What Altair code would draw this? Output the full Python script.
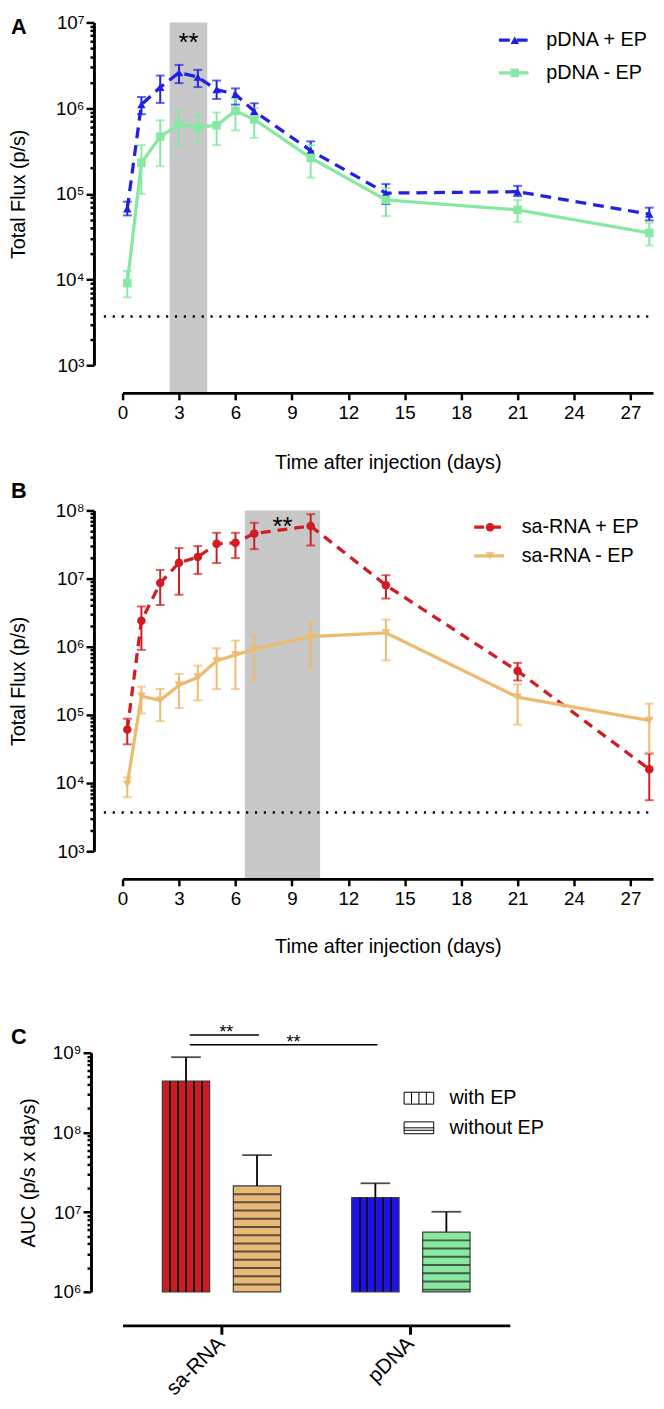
import altair as alt
import pandas as pd
import math

FONT = "Liberation Sans"

# ---------------- data ----------------
days = [0.25, 1, 2, 3, 4, 5, 6, 7, 10, 14, 21, 28]

# Panel A (pDNA)
a_names = ["pDNA + EP", "pDNA - EP"]
a_colors = ["#2121E3", "#86E8A2"]
a_shapes = ["triangle-up", "square"]
a_dashes = [[11, 7], [1, 0]]
pdna_ep = [6.7e4, 1.1e6, 1.75e6, 2.6e6, 2.3e6, 1.65e6, 1.45e6, 9.2e5, 3.2e5, 1.02e5, 1.06e5, 5.8e4]
pdna_ep_hi = [8.1e4, 1.35e6, 2.4e6, 3.2e6, 2.8e6, 2.1e6, 1.7e6, 1.14e6, 4.1e5, 1.3e5, 1.24e5, 6.9e4]
pdna_ep_lo = [5.6e4, 8.5e5, 1.15e6, 1.96e6, 1.76e6, 1.28e6, 1.1e6, 7.9e5, 2.8e5, 7.6e4, 9.4e4, 4.9e4]
pdna_noep = [9.1e3, 2.3e5, 4.65e5, 6.5e5, 6.0e5, 6.3e5, 9.3e5, 7.4e5, 2.63e5, 8.5e4, 6.5e4, 3.5e4]
pdna_noep_hi = [1.26e4, 3.7e5, 7.2e5, 9.3e5, 8.3e5, 8.9e5, 1.29e6, 1.0e6, 3.7e5, 1.16e5, 8.5e4, 4.6e4]
pdna_noep_lo = [6.2e3, 1.0e5, 2.1e5, 3.6e5, 3.85e5, 3.7e5, 5.5e5, 4.5e5, 1.55e5, 5.5e4, 4.7e4, 2.5e4]
a_band = [2.5, 4.5]

# Panel B (sa-RNA)
b_names = ["sa-RNA + EP", "sa-RNA - EP"]
b_colors = ["#D01C22", "#EDBA72"]
b_shapes = ["circle", "triangle-down"]
b_dashes = [[10, 7], [1, 0]]
sarna_ep = [6.1e4, 2.4e6, 8.6e6, 1.71e7, 2.07e7, 3.24e7, 3.35e7, 4.6e7, 5.9e7, 8.0e6, 4.4e5, 1.6e4]
sarna_ep_hi = [8.8e4, 3.9e6, 1.34e7, 2.8e7, 3.0e7, 4.7e7, 4.7e7, 6.6e7, 8.8e7, 1.12e7, 5.8e5, 2.7e4]
sarna_ep_lo = [3.7e4, 9.0e5, 4.1e6, 5.8e6, 1.17e7, 1.69e7, 2.0e7, 2.7e7, 3.06e7, 5.1e6, 3.2e5, 5.6e3]
sarna_noep = [9.6e3, 1.88e5, 1.64e5, 2.72e5, 3.56e5, 6.2e5, 7.6e5, 9.2e5, 1.41e6, 1.6e6, 1.82e5, 8.3e4]
sarna_noep_hi = [1.21e4, 2.6e5, 2.4e5, 4.0e5, 5.3e5, 9.5e5, 1.23e6, 1.49e6, 2.26e6, 2.5e6, 2.8e5, 1.46e5]
sarna_noep_lo = [6.2e3, 1.05e5, 8.1e4, 1.26e5, 1.64e5, 2.4e5, 2.4e5, 3.1e5, 4.9e5, 6.3e5, 7.2e4, 2.8e4]
b_band = [6.5, 10.5]

detection_limit = [3700]
x_ticks = [0, 3, 6, 9, 12, 15, 18, 21, 24, 27]

# Panel C (AUC)
c_groups = ["sa-RNA", "sa-RNA", "pDNA", "pDNA"]
c_conds = ["with EP", "without EP", "with EP", "without EP"]
c_auc = [4.4e8, 2.13e7, 1.52e7, 5.6e6]
c_auc_hi = [8.8e8, 5.2e7, 2.3e7, 1.01e7]
c_colors = ["#CE1A20", "#E8B878", "#1F10EE", "#88E8A0"]
group_order = ["sa-RNA", "pDNA"]
cond_order = ["with EP", "without EP"]

# ---------------- helpers ----------------
W = 537
SUP = "⁰¹²³⁴⁵⁶⁷⁸⁹"
IS_MAJOR = "abs(log(datum.value)/LN10 - round(log(datum.value)/LN10)) < 0.01"


def log_axis(lo_exp, hi_exp, title, offset, title_pad):
    vals = [m * 10 ** e for e in range(lo_exp, hi_exp) for m in range(1, 10)] + [10 ** hi_exp]
    expo = "round(log(datum.value)/LN10)"
    return alt.Axis(
        values=vals, title=title, offset=offset, titlePadding=title_pad,
        labelExpr=f"{IS_MAJOR} ? '10' + substring('{SUP}', {expo}, {expo} + 1) : ''",
        tickSize={"condition": {"test": IS_MAJOR, "value": 8}, "value": 4},
        labelPadding=2, labelOverlap=False, labelFontSize=19,
    )


def series_frame(names, means, los, his):
    rows = []
    for name, m, lo, hi in zip(names, means, los, his):
        for d, v, l, h in zip(days, m, lo, hi):
            rows.append({"day": d, "value": v, "lo": l, "hi": h, "series": name})
    return pd.DataFrame(rows)


one = pd.DataFrame({"k": [0]})


def time_panel(df, names, colors, shapes, dashes, exps, H, band, star_y,
               letter, letter_y, leg_x, leg_y0, leg_dy, title_pad):
    xs = alt.Scale(domain=[0, 28.2], nice=False, zero=False)
    ys = alt.Scale(type="log", domain=[10 ** exps[0], 10 ** exps[1]], nice=False)
    xaxis = alt.Axis(values=x_ticks, title="Time after injection (days)", offset=28,
                     tickSize=7, labelPadding=4, titlePadding=title_pad, labelFlush=False,
                     labelFontSize=19, zindex=1)
    yaxis = log_axis(exps[0], exps[1], "Total Flux (p/s)", 29, 27)
    X = lambda f: alt.X(f, type="quantitative", scale=xs, axis=xaxis)
    Y = lambda f: alt.Y(f, type="quantitative", scale=ys, axis=yaxis)
    col = alt.Color("series:N", scale=alt.Scale(domain=names, range=colors), legend=None)

    band_df = pd.DataFrame({"x0": [band[0]], "x1": [band[1]], "mid": [(band[0] + band[1]) / 2]})
    layers = []
    layers.append(alt.Chart(band_df).mark_rect(color="#C8C8C8").encode(
        x=X("x0"), x2="x1", y=alt.value(0), y2=alt.value(H + 27)))
    layers.append(alt.Chart(pd.DataFrame({"lod": detection_limit})).mark_rule(
        color="black", strokeDash=[2.2, 6.8], strokeWidth=2.6).encode(
        y=Y("lod"), x=alt.value(-19), x2=alt.value(W)))
    base = alt.Chart(df)
    layers.append(base.mark_rule(strokeWidth=2).encode(x=X("day"), y=Y("lo"), y2="hi", color=col))
    layers.append(base.mark_tick(orient="horizontal", size=9, thickness=2).encode(x=X("day"), y=Y("hi"), color=col))
    layers.append(base.mark_tick(orient="horizontal", size=9, thickness=2).encode(x=X("day"), y=Y("lo"), color=col))
    layers.append(base.mark_line(strokeWidth=3.3).encode(
        x=X("day"), y=Y("value"), color=col,
        strokeDash=alt.StrokeDash("series:N", scale=alt.Scale(domain=names, range=dashes), legend=None)))
    layers.append(base.mark_point(filled=True, opacity=1, size=75).encode(
        x=X("day"), y=Y("value"), color=col,
        shape=alt.Shape("series:N", scale=alt.Scale(domain=names, range=shapes), legend=None)))
    layers.append(alt.Chart(band_df).mark_text(text="**", fontSize=26, font=FONT, color="black",
                                               baseline="alphabetic").encode(
        x=X("mid"), y=alt.value(star_y)))
    layers.append(alt.Chart(one).mark_text(text=letter, fontSize=22, fontWeight="bold", font=FONT,
                                           align="left", color="black").encode(
        x=alt.value(-113), y=alt.value(letter_y)))
    # legend
    for i, (nm, c, s, d) in enumerate(zip(names, colors, shapes, dashes)):
        yy = leg_y0 + i * leg_dy
        layers.append(alt.Chart(one).mark_rule(color=c, strokeWidth=3.3, strokeDash=d).encode(
            x=alt.value(leg_x), x2=alt.value(leg_x + 30), y=alt.value(yy)))
        layers.append(alt.Chart(one).mark_point(color=c, filled=True, opacity=1, size=75, shape=s).encode(
            x=alt.value(leg_x + 16), y=alt.value(yy)))
        layers.append(alt.Chart(pd.DataFrame({"name": [nm]})).mark_text(
            fontSize=20, font=FONT, align="left", baseline="middle", color="black").encode(
            x=alt.value(leg_x + 48), y=alt.value(yy), text="name:N"))
    return alt.layer(*layers).properties(width=W, height=H)


dfa = series_frame(a_names, [pdna_ep, pdna_noep], [pdna_ep_lo, pdna_noep_lo], [pdna_ep_hi, pdna_noep_hi])
dfb = series_frame(b_names, [sarna_ep, sarna_noep], [sarna_ep_lo, sarna_noep_lo], [sarna_ep_hi, sarna_noep_hi])

chart_a = time_panel(dfa, a_names, a_colors, a_shapes, a_dashes, (3, 7), 347, a_band, 29,
                     "A", 5, 381, 18, 33, 31)
chart_b = time_panel(dfb, b_names, b_colors, b_shapes, b_dashes, (3, 8), 345, b_band, 25,
                     "B", -20, 356, 17, 29, 29)

# ---------------- Panel C ----------------
CW, CH = 392, 242
c_df = pd.DataFrame({"group": c_groups, "cond": c_conds, "auc": c_auc, "hi": c_auc_hi,
                     "key": [g + " " + c for g, c in zip(c_groups, c_conds)]})
keys = list(c_df["key"])
cys = alt.Scale(type="log", domain=[1e6, 1e9], nice=False)
cyaxis = log_axis(6, 9, "AUC (p/s x days)", 32, 14)
cxaxis = alt.Axis(title=None, offset=34, tickSize=9, tickWidth=3, labelAngle=-45, labelAlign="right",
                  labelBaseline="middle", labelPadding=6, labelFontSize=21)
CX = alt.X("group:N", sort=group_order,
           scale=alt.Scale(domain=group_order, paddingInner=0.375, paddingOuter=0.21), axis=cxaxis)
CXO = alt.XOffset("cond:N", sort=cond_order,
                  scale=alt.Scale(domain=cond_order, paddingInner=0.333, paddingOuter=0))
CY = lambda f: alt.Y(f, type="quantitative", scale=cys, axis=cyaxis)

stops = [alt.GradientStop(offset=0, color="rgba(0,0,0,0)")]
for k in range(1, 6):
    c0 = k / 6 - 1 / 48
    c1 = k / 6 + 1 / 48
    stops += [alt.GradientStop(offset=c0, color="rgba(0,0,0,0)"),
              alt.GradientStop(offset=c0, color="#111111"),
              alt.GradientStop(offset=c1, color="#111111"),
              alt.GradientStop(offset=c1, color="rgba(0,0,0,0)")]
stops.append(alt.GradientStop(offset=1, color="rgba(0,0,0,0)"))
vgrad = alt.LinearGradient(gradient="linear", stops=stops, x1=0, x2=1, y1=0, y2=0)

hatch_rows = []
for g, c, v in zip(c_groups, c_conds, c_auc):
    if c == "without EP":
        k = 1
        while math.log10(v) - k * 0.103 > 6.02:
            hatch_rows.append({"group": g, "cond": c, "y": 10 ** (math.log10(v) - k * 0.103)})
            k += 1
hatch_df = pd.DataFrame(hatch_rows)

c_layers = [
    alt.Chart(c_df).mark_bar(stroke="#3a3a3a", strokeWidth=1.2).encode(
        x=CX, xOffset=CXO, y=CY("auc"), y2=alt.datum(1e6),
        color=alt.Color("key:N", scale=alt.Scale(domain=keys, range=c_colors), legend=None)),
    alt.Chart(c_df).transform_filter(alt.datum.cond == "with EP").mark_bar(fill=vgrad, strokeWidth=0).encode(
        x=CX, xOffset=CXO, y=CY("auc"), y2=alt.datum(1e6)),
    alt.Chart(hatch_df).mark_tick(orient="horizontal", size=48, thickness=2, color="#222222").encode(
        x=CX, xOffset=CXO, y=CY("y")),
    alt.Chart(c_df).mark_rule(color="black", strokeWidth=1.8).encode(
        x=CX, xOffset=CXO, y=CY("auc"), y2="hi"),
    alt.Chart(c_df).mark_tick(orient="horizontal", size=30, thickness=1.8, color="black").encode(
        x=CX, xOffset=CXO, y=CY("hi")),
    # significance annotations
    alt.Chart(one).mark_rule(color="black", strokeWidth=1.5).encode(
        x=alt.value(68), x2=alt.value(138), y=alt.value(-18)),
    alt.Chart(one).mark_rule(color="black", strokeWidth=1.5).encode(
        x=alt.value(68), x2=alt.value(258), y=alt.value(-8)),
    alt.Chart(one).mark_text(text="**", fontSize=18, font=FONT, color="black").encode(
        x=alt.value(105), y=alt.value(-20)),
    alt.Chart(one).mark_text(text="**", fontSize=18, font=FONT, color="black").encode(
        x=alt.value(173), y=alt.value(-10)),
    alt.Chart(one).mark_text(text="C", fontSize=22, fontWeight="bold", font=FONT,
                             align="left", color="black").encode(
        x=alt.value(-113), y=alt.value(-16)),
    # legend boxes
    alt.Chart(one).mark_rect(fill="white", stroke="black", strokeWidth=1).encode(
        x=alt.value(285), x2=alt.value(315), y=alt.value(40), y2=alt.value(52)),
    alt.Chart(one).mark_rect(fill="white", stroke="black", strokeWidth=1).encode(
        x=alt.value(285), x2=alt.value(315), y=alt.value(70), y2=alt.value(82)),
]
for xv in [292.5, 300, 307.5]:
    c_layers.append(alt.Chart(one).mark_rule(color="black", strokeWidth=1).encode(
        x=alt.value(xv), y=alt.value(40), y2=alt.value(52)))
for yv in [76, 78.5]:
    c_layers.append(alt.Chart(one).mark_rule(color="black", strokeWidth=1).encode(
        x=alt.value(285), x2=alt.value(315), y=alt.value(yv)))
for i, nm in enumerate(cond_order):
    c_layers.append(alt.Chart(pd.DataFrame({"name": [nm]})).mark_text(
        fontSize=20, font=FONT, align="left", baseline="middle", color="black").encode(
        x=alt.value(331), y=alt.value(46 + 30 * i), text="name:N"))

chart_c = alt.layer(*c_layers).properties(width=CW, height=CH)

IND = dict(color="independent", shape="independent", strokeDash="independent")
top = alt.vconcat(chart_a, chart_b, spacing=7).resolve_scale(**IND)
chart = alt.vconcat(top, chart_c, spacing=68).resolve_scale(**IND).properties(
    padding={"left": 0, "top": -3, "right": 0, "bottom": 0}
).configure_view(stroke=None).configure_axis(
    domainColor="black", tickColor="black", labelColor="black", titleColor="black",
    grid=False, labelFont=FONT, titleFont=FONT, titleFontSize=20, titleFontWeight="normal",
    domainWidth=3, tickWidth=2.5,
)

chart.save("out.html", embed_options={"renderer": "svg", "actions": False})
